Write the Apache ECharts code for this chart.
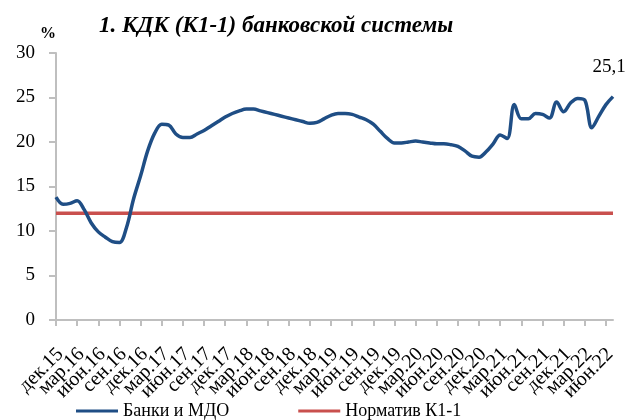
<!DOCTYPE html>
<html>
<head>
<meta charset="utf-8">
<script src="https://cdn.jsdelivr.net/npm/echarts@6/dist/echarts.min.js"></script>
<style>html,body{margin:0;padding:0;background:#fff}#c{width:640px;height:420px}</style>
</head>
<body>
<div id="c"></div>
<script>
// Monthly categories Dec 2015 .. Jul 2022 (labels shown every quarter)
const categories = ['дек.15',
 'янв.16','фев.16','мар.16','апр.16','май.16','июн.16','июл.16','авг.16','сен.16','окт.16','ноя.16','дек.16',
 'янв.17','фев.17','мар.17','апр.17','май.17','июн.17','июл.17','авг.17','сен.17','окт.17','ноя.17','дек.17',
 'янв.18','фев.18','мар.18','апр.18','май.18','июн.18','июл.18','авг.18','сен.18','окт.18','ноя.18','дек.18',
 'янв.19','фев.19','мар.19','апр.19','май.19','июн.19','июл.19','авг.19','сен.19','окт.19','ноя.19','дек.19',
 'янв.20','фев.20','мар.20','апр.20','май.20','июн.20','июл.20','авг.20','сен.20','окт.20','ноя.20','дек.20',
 'янв.21','фев.21','мар.21','апр.21','май.21','июн.21','июл.21','авг.21','сен.21','окт.21','ноя.21','дек.21',
 'янв.22','фев.22','мар.22','апр.22','май.22','июн.22','июл.22'];
const banks = [13.8,
 13.0,13.1,13.4,12.4,10.9,9.9,9.3,8.8,8.7,10.4,13.6,16.2,
 19.0,21.0,22.0,21.9,20.9,20.5,20.5,20.9,21.3,21.8,22.3,22.8,
 23.2,23.5,23.7,23.7,23.5,23.3,23.1,22.9,22.7,22.5,22.3,22.1,
 22.2,22.6,23.0,23.2,23.2,23.1,22.8,22.5,22.0,21.2,20.4,19.9,
 19.9,20.0,20.1,20.0,19.9,19.8,19.8,19.7,19.5,19.0,18.4,18.3,
 18.9,19.8,20.8,20.4,24.2,22.6,22.6,23.2,23.1,22.7,24.5,23.4,
 24.4,24.9,24.7,21.6,22.9,24.2,25.1];
const normValue = 12;
const norm = categories.map(() => normValue);

const FONT = '"Liberation Serif", serif';
const quarterly = (i) => i % 3 === 0;
const chart = echarts.init(document.getElementById('c'), null, {renderer:'canvas'});
chart.setOption({
  animation:false,
  textStyle:{fontFamily:FONT},
  title:{
    text:'1. КДК (К1-1) банковской системы',
    left:94, top:10,
    textStyle:{fontFamily:FONT, fontStyle:'italic', fontWeight:'bold', fontSize:23, color:'#000'}
  },
  grid:{left:56, right:27, top:53, bottom:100, containLabel:false},
  legend:{
    top:402, left:76, padding:0, itemGap:69, itemWidth:42, itemHeight:3,
    icon:'rect',
    textStyle:{fontFamily:FONT, fontSize:18, color:'#000', padding:[0,0,0,0]},
    data:['Банки и МДО','Норматив К1-1']
  },
  xAxis:{
    type:'category', data:categories, boundaryGap:false,
    axisLine:{lineStyle:{color:'#bfbfbf', width:2}},
    axisTick:{show:true, interval:quarterly, length:6, lineStyle:{color:'#bfbfbf', width:2}},
    axisLabel:{interval:0, rotate:45, fontFamily:FONT, fontSize:20, lineHeight:12,
      verticalAlign:'top', color:'#000', margin:27,
      formatter:(v, i) => quarterly(i) ? v : ''}
  },
  yAxis:{
    type:'value', min:0, max:30, interval:5,
    name:'%', nameLocation:'end', nameGap:11,
    nameTextStyle:{fontFamily:FONT, fontSize:16, fontWeight:'bold', color:'#000', align:'center', padding:[0,16,0,0]},
    axisLine:{show:true, lineStyle:{color:'#bfbfbf', width:2}},
    axisTick:{show:true, length:7, lineStyle:{color:'#bfbfbf', width:2}},
    splitLine:{show:false},
    axisLabel:{fontFamily:FONT, fontSize:19, color:'#000', margin:21}
  },
  series:[
    {name:'Банки и МДО', type:'line', data:banks, smooth:0.35,
     showSymbol:true, showAllSymbol:true, symbol:'circle', symbolSize:0,
     lineStyle:{color:'#1F4E85', width:3.5}, itemStyle:{color:'#1F4E85'},
     label:{show:true, position:'top', distance:20, offset:[-4,0], fontFamily:FONT, fontSize:19, color:'#000',
       formatter:p => p.dataIndex === banks.length-1 ? String(p.value).replace('.', ',') : ''},
     z:3},
    {name:'Норматив К1-1', type:'line', data:norm, showSymbol:false, symbol:'none',
     lineStyle:{color:'#C9504E', width:3.5}, itemStyle:{color:'#C9504E'}, z:2}
  ]
});
</script>
</body>
</html>
